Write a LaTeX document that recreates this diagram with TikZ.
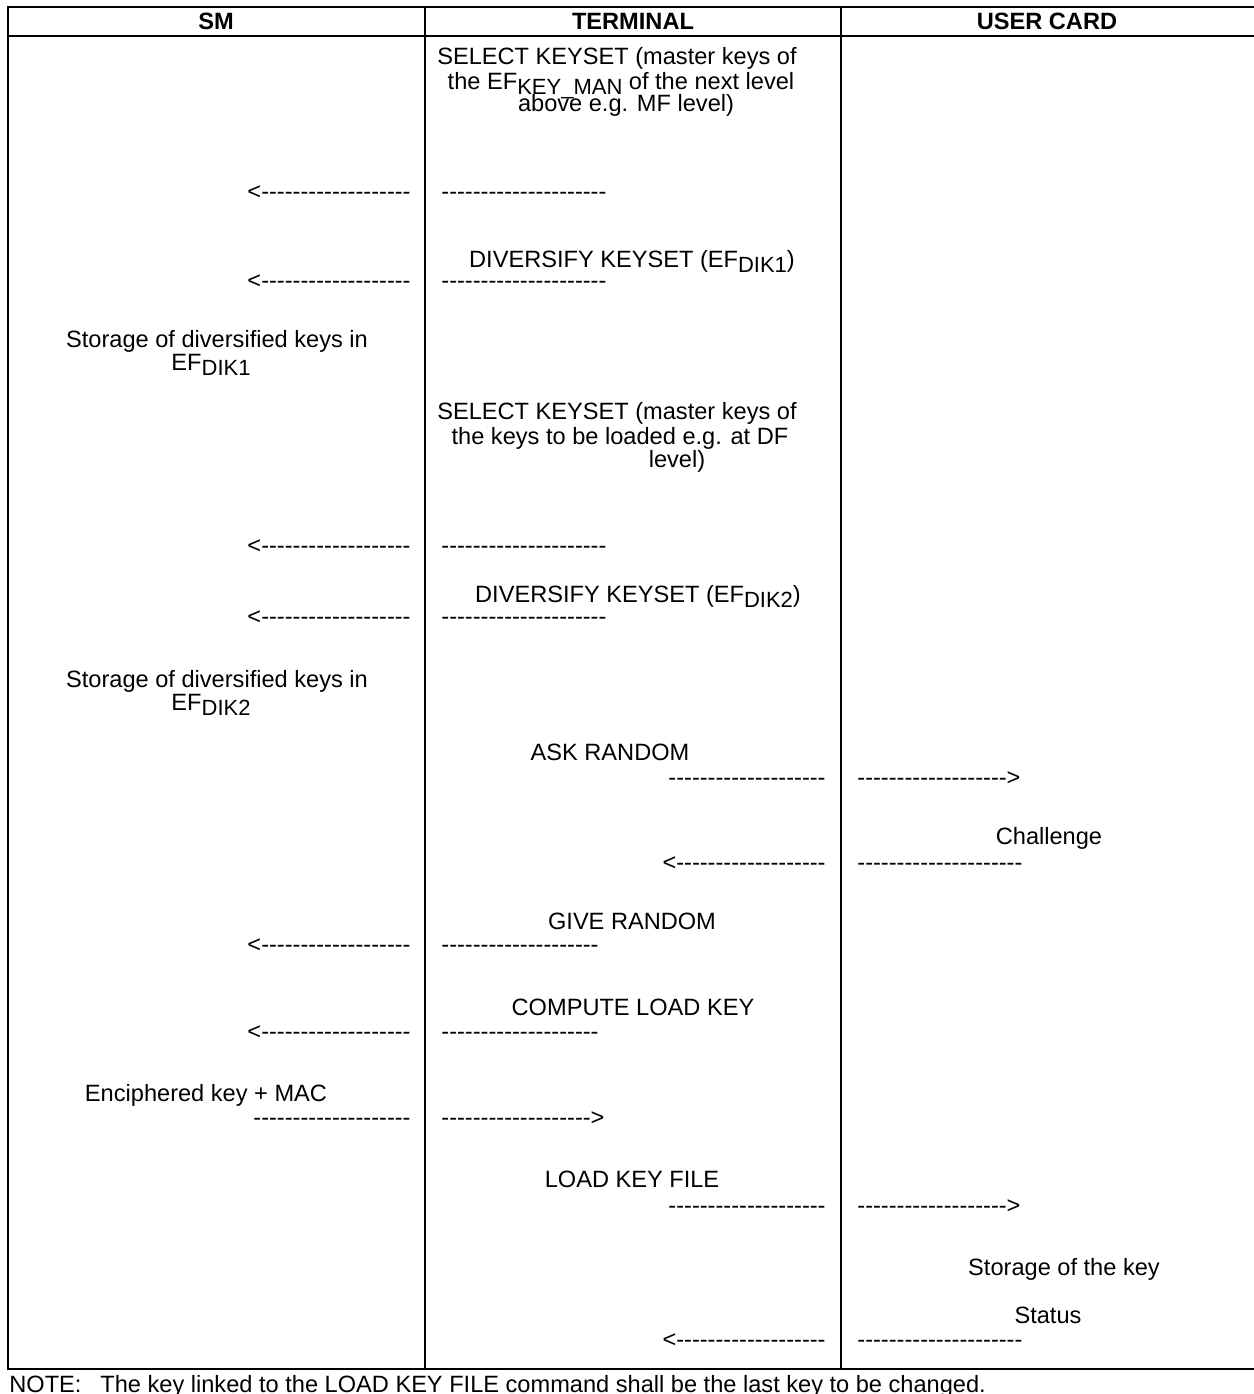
\documentclass[tikz,border=0pt]{standalone}
\usepackage{fontspec}
\setmainfont{Liberation Sans}
% a run of plain hyphens (kerns keep them from turning into dashes)
\newcommand\hyph[1]{\foreach \k in {1,...,#1}{-\kern0pt}}
\newcommand\lsub[1]{\raisebox{-2.8pt}{\fontsize{11}{12}\selectfont #1}}
\begin{document}
\begin{tikzpicture}[x=0.5pt,y=-0.5pt,
  rule/.style={line width=1pt},
  txt/.style={inner sep=0pt, font=\fontsize{11.8}{14}\selectfont, anchor=base},
  head/.style={txt, font=\fontsize{11.8}{14}\selectfont\bfseries},
  lft/.style={txt, anchor=base east},
  rgt/.style={txt, anchor=base west}]
\useasboundingbox (0,0) rectangle (1254,1394);

% table rules
\draw[rule] (1254,7) -- (8,7) -- (8,1369) -- (1254,1369);
\draw[rule] (8,36) -- (1254,36);
\draw[rule] (425,7) -- (425,1369);
\draw[rule] (841,7) -- (841,1369);

% column heads
\node[head] (hsm)   at (216,29)  {SM};
\node[head] (hterm) at (633,29)  {TERMINAL};
\node[head] (hcard) at (1047,29) {USER CARD};

% SELECT KEYSET (upper level)
\node[txt] (sel1a) at (617,64)  {SELECT KEYSET (master keys of};
\node[txt] (sel1b) at (621,89)  {the EF\lsub{KEY\_MAN} of the next level};
\node[txt] (sel1c) at (626,111) {above e.g. MF level)};
\node[lft] (a1l) at (411,199) {<\hyph{19}};
\node[rgt] (a1r) at (441,199) {\hyph{21}};

% DIVERSIFY KEYSET 1
\node[txt] (div1) at (632,267) {DIVERSIFY KEYSET (EF\lsub{DIK1})};
\node[lft] (a2l) at (411,288) {<\hyph{19}};
\node[rgt] (a2r) at (441,288) {\hyph{21}};
\node[txt] (sto1a) at (217,347) {Storage of diversified keys in};
\node[txt] (sto1b) at (211,370) {EF\lsub{DIK1}};

% SELECT KEYSET (keys to be loaded)
\node[txt] (sel2a) at (617,419) {SELECT KEYSET (master keys of};
\node[txt] (sel2b) at (620,444) {the keys to be loaded e.g. at DF};
\node[txt] (sel2c) at (677,467) {level)};
\node[lft] (a3l) at (411,553) {<\hyph{19}};
\node[rgt] (a3r) at (441,553) {\hyph{21}};

% DIVERSIFY KEYSET 2
\node[txt] (div2) at (638,602) {DIVERSIFY KEYSET (EF\lsub{DIK2})};
\node[lft] (a4l) at (411,624) {<\hyph{19}};
\node[rgt] (a4r) at (441,624) {\hyph{21}};
\node[txt] (sto2a) at (217,687) {Storage of diversified keys in};
\node[txt] (sto2b) at (211,710) {EF\lsub{DIK2}};

% ASK RANDOM
\node[txt] (ask) at (610,760) {ASK RANDOM};
\node[lft] (a5l) at (826,785) {\hyph{20}};
\node[rgt] (a5r) at (857,785) {\hyph{19}>};
\node[txt] (chal) at (1049,844) {Challenge};
\node[lft] (a6l) at (826,870) {<\hyph{19}};
\node[rgt] (a6r) at (857,870) {\hyph{21}};

% GIVE RANDOM
\node[txt] (give) at (632,929) {GIVE RANDOM};
\node[lft] (a7l) at (411,952) {<\hyph{19}};
\node[rgt] (a7r) at (441,952) {\hyph{20}};

% COMPUTE LOAD KEY
\node[txt] (comp) at (633,1015) {COMPUTE LOAD KEY};
\node[lft] (a8l) at (411,1039) {<\hyph{19}};
\node[rgt] (a8r) at (441,1039) {\hyph{20}};
\node[txt] (enc) at (206,1101) {Enciphered key + MAC};
\node[lft] (a9l) at (411,1125) {\hyph{20}};
\node[rgt] (a9r) at (441,1125) {\hyph{19}>};

% LOAD KEY FILE
\node[txt] (load) at (632,1187) {LOAD KEY FILE};
\node[lft] (a10l) at (826,1213) {\hyph{20}};
\node[rgt] (a10r) at (857,1213) {\hyph{19}>};
\node[txt] (stok) at (1064,1275) {Storage of the key};
\node[txt] (stat) at (1048,1323) {Status};
\node[lft] (a11l) at (826,1347) {<\hyph{19}};
\node[rgt] (a11r) at (857,1347) {\hyph{21}};

% note below the table
\node[rgt] (note)  at (9,1392) {NOTE:};
\node[rgt] (notet) at (100,1392) {The key linked to the LOAD KEY FILE command shall be the last key to be changed.};
\end{tikzpicture}
\end{document}
